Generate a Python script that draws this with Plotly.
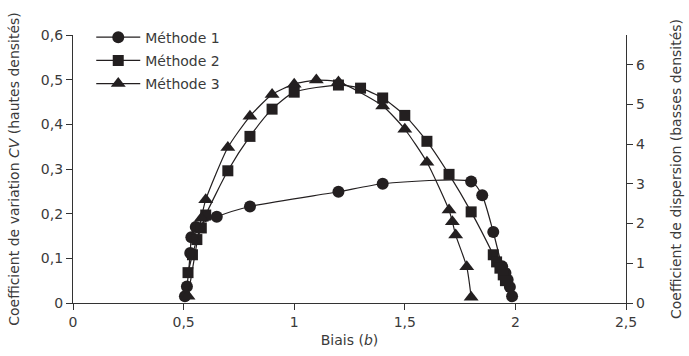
import plotly.graph_objects as go

# Méthode 1 (circles)
m1_x = [0.506, 0.515, 0.53, 0.535, 0.555, 0.65, 0.80, 1.20, 1.40, 1.80, 1.85, 1.90, 1.94, 1.955, 1.965, 1.975, 1.985]
m1_y = [0.015, 0.037, 0.112, 0.147, 0.170, 0.193, 0.216, 0.249, 0.267, 0.272, 0.241, 0.159, 0.082, 0.067, 0.052, 0.036, 0.015]

# Méthode 2 (squares)
m2_x = [0.52, 0.54, 0.56, 0.58, 0.60, 0.70, 0.80, 0.90, 1.00, 1.20, 1.30, 1.40, 1.50, 1.60, 1.70, 1.80, 1.90, 1.915, 1.93, 1.945, 1.955]
m2_y = [0.068, 0.108, 0.142, 0.168, 0.197, 0.296, 0.373, 0.434, 0.472, 0.488, 0.481, 0.459, 0.420, 0.362, 0.288, 0.204, 0.108, 0.092, 0.078, 0.063, 0.050]

# Méthode 3 (triangles)
m3_x = [0.52, 0.58, 0.60, 0.70, 0.80, 0.90, 1.00, 1.10, 1.20, 1.40, 1.50, 1.60, 1.70, 1.715, 1.73, 1.78, 1.80]
m3_y = [0.015, 0.190, 0.231, 0.348, 0.418, 0.467, 0.490, 0.499, 0.495, 0.441, 0.389, 0.315, 0.208, 0.182, 0.152, 0.081, 0.013]

x_ticks = [0, 0.5, 1, 1.5, 2, 2.5]
x_ticktext = ["0", "0,5", "1", "1,5", "2", "2,5"]
y_ticks = [0, 0.1, 0.2, 0.3, 0.4, 0.5, 0.6]
y_ticktext = ["0", "0,1", "0,2", "0,3", "0,4", "0,5", "0,6"]
y2_ticks = [0, 1, 2, 3, 4, 5, 6]
y2_ticktext = ["0", "1", "2", "3", "4", "5", "6"]

ink = "#231f20"
txt = "#3a3a3a"
fam = "DejaVu Sans, sans-serif"
tick_font = dict(family=fam, size=14, color=txt)
title_font = dict(family=fam, size=14, color=txt)

fig = go.Figure()
series = [("Méthode 1", m1_x, m1_y, "circle", 12),
          ("Méthode 2", m2_x, m2_y, "square", 11),
          ("Méthode 3", m3_x, m3_y, "triangle-up", 13)]
for i, (name, xs, ys, sym, sz) in enumerate(series):
    fig.add_trace(go.Scatter(
        x=xs, y=ys, name=name, mode="lines+markers", legendgroup=f"g{i}",
        line=dict(color=ink, width=1.2, shape="spline", smoothing=0.6),
        marker=dict(symbol=sym, size=sz, color=ink, line=dict(width=0)),
    ))

# empty trace so that the right-hand scale is drawn
fig.add_trace(go.Scatter(x=[None], y=[None], yaxis="y2", showlegend=False,
                         hoverinfo="skip", mode="markers"))

axis_common = dict(showline=True, linecolor="#333333", linewidth=1.2,
                   ticks="outside", ticklen=6, tickcolor="#333333", tickwidth=1.2,
                   showgrid=False, zeroline=False, tickfont=tick_font,
                   automargin=False)

fig.update_layout(
    width=689, height=356,
    margin=dict(l=73, r=63, t=35, b=53),
    paper_bgcolor="white", plot_bgcolor="white",
    font=dict(family=fam, size=13, color=txt),
    showlegend=True,
    legend=dict(x=0.033, y=1.05, xanchor="left", yanchor="top",
                bgcolor="rgba(0,0,0,0)", font=dict(family=fam, size=14, color=txt),
                tracegroupgap=2, itemwidth=44),
    xaxis=dict(range=[0, 2.5], tickvals=x_ticks, ticktext=x_ticktext,
               title=dict(text="Biais (<i>b</i>)", font=title_font, standoff=6),
               **axis_common),
    yaxis=dict(range=[0, 0.6], tickvals=y_ticks, ticktext=y_ticktext,
               title=dict(text="Coefficient de variation <i>CV</i> (hautes densités)", font=title_font, standoff=17),
               **axis_common),
    yaxis2=dict(range=[0, 6.75], tickvals=y2_ticks, ticktext=y2_ticktext,
                overlaying="y", side="right", anchor="x",
                title=dict(text="Coefficient de dispersion (basses densités)", font=title_font, standoff=27),
                **axis_common),
)

fig.write_html("out.html")
